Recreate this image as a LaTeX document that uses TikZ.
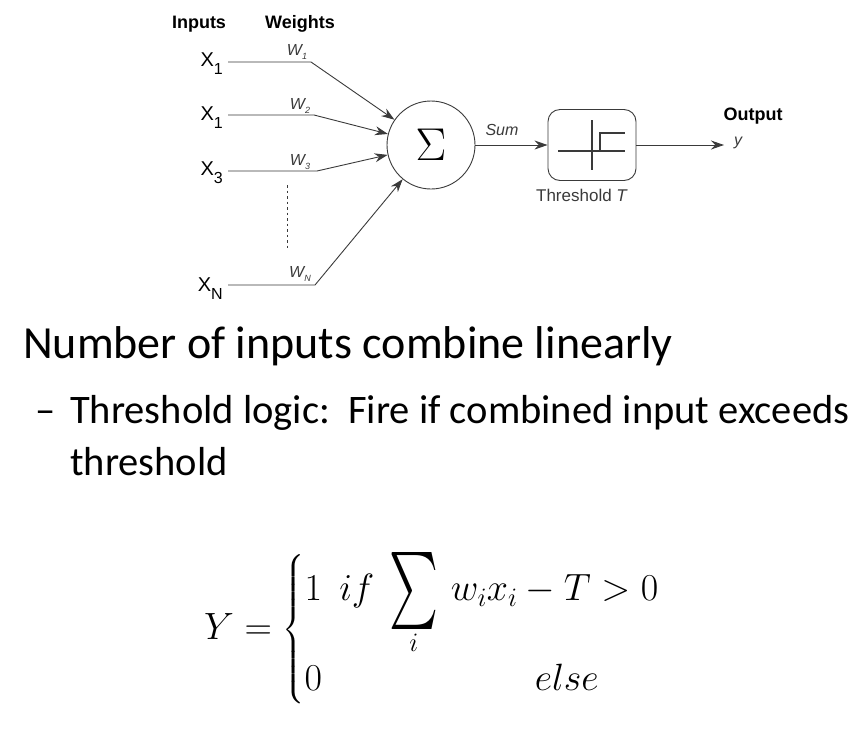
\RequirePackage{fix-cm}
\documentclass[tikz,border=0pt]{standalone}
\usepackage{amsmath}
\usepackage{fontspec}
\setmainfont{Carlito}
\newfontfamily\diagfont{Liberation Sans}
\usetikzlibrary{arrows.meta,positioning}
\definecolor{wiregray}{HTML}{3A3A3A}
\tikzset{
  head/.style={font=\diagfont\bfseries\fontsize{18}{18}\selectfont},
  inlabel/.style={font=\diagfont\fontsize{20}{20}\selectfont,anchor=east,inner sep=5pt},
  wlabel/.style={font=\diagfont\itshape\fontsize{16}{16}\selectfont,inner sep=1pt,text=wiregray},
  plainlabel/.style={font=\diagfont\fontsize{17}{17}\selectfont,inner sep=1pt,text=wiregray},
  wire/.style={draw=wiregray,line width=0.9pt},
  wirearrow/.style={wire,-{Stealth[length=13pt,width=9pt]}},
  sumnode/.style={circle,draw=wiregray,line width=0.9pt,minimum size=88pt,inner sep=0pt},
  thrbox/.style={draw=wiregray,line width=0.9pt,rounded corners=12pt,
    minimum width=88pt,minimum height=71pt},
  bigtext/.style={font=\fontsize{40.5}{48}\selectfont,anchor=base west,inner sep=0pt}
}
\newcommand{\xin}[1]{X\raisebox{-0.4em}{\fontsize{16}{16}\selectfont #1}}
\newcommand{\win}[1]{W\raisebox{-0.25em}{\fontsize{9}{9}\selectfont #1}}
\newcommand{\bigsum}{\mathop{\vcenter{\hbox{\resizebox*{49pt}{77pt}{$\sum$}}}}\limits}

\begin{document}
\begin{tikzpicture}[x=1pt,y=-1pt]
\useasboundingbox (0,0) rectangle (864,732);
% headers
\node[head] (inputs) at (199,24) {Inputs};
\node[head] (weights) at (300,24) {Weights};
% inputs
\node[inlabel] (x1) at (228,64) {\xin{1}};
\node[inlabel] (x2) at (228,118) {\xin{1}};
\node[inlabel] (x3) at (228,173) {\xin{3}};
\node[inlabel] (xn) at (228,289) {\xin{N}};
\coordinate (k1) at (311,62);
\coordinate (k2) at (314,115);
\coordinate (k3) at (317,171);
\coordinate (kn) at (315,285);
% weights
\node[wlabel] (w1) at (297,52) {\win{1}};
\node[wlabel] (w2) at (300,106) {\win{2}};
\node[wlabel] (w3) at (300,162) {\win{3}};
\node[wlabel] (wn) at (300,274) {\win{N}};
\draw[wire,dash pattern=on 2.5pt off 3pt] (287,185) -- (287,248);
% neuron
\node[sumnode] (sum) at (431,145) {\fontsize{46}{46}\selectfont$\Sigma$};
\node[thrbox] (thr) at (592,145) {};
\draw[line width=1.3pt,draw=wiregray] (558,151) -- (625,151);
\draw[line width=1.3pt,draw=wiregray] (592,120) -- (592,170);
\draw[line width=1.3pt,draw=wiregray] (600,151) -- (600,133) -- (625,133);
\node[wlabel] (sumlbl) at (502,130) {Sum};
\node[plainlabel] (thrlbl) at (582,195) {Threshold \textit{T}};
\node[head] (outlbl) at (753,116) {Output};
\node[wlabel] (ylbl) at (738,143) {y};
\coordinate (yend) at (724,145);
\draw[wirearrow] (x1.east |- k1) -- (k1) -- (sum);
\draw[wirearrow] (x2.east |- k2) -- (k2) -- (sum);
\draw[wirearrow] (x3.east |- k3) -- (k3) -- (sum);
\draw[wirearrow] (xn.east |- kn) -- (kn) -- (sum);
\draw[wirearrow] (sum) -- (thr);
\draw[wirearrow] (thr) -- (yend);
% text
\node[bigtext,font=\fontsize{46}{52}\selectfont] (line1) at (23,358) {Number of inputs combine linearly};
\node[bigtext] (dash) at (35,423) {–};
\node[bigtext] (line2) at (70,423) {Threshold logic:\ \ Fire if combined input exceeds};
\node[bigtext] (line3) at (70,475) {threshold};
\node[anchor=base west,inner sep=0pt,font=\fontsize{38}{44}\selectfont] (rule) at (204,639)
  {$Y=\begin{cases}1\ \ if\ \bigsum_{i}\, w_ix_i-T>0\\[2pt] 0\hspace{5.6em}else\end{cases}$};
\end{tikzpicture}
\end{document}
